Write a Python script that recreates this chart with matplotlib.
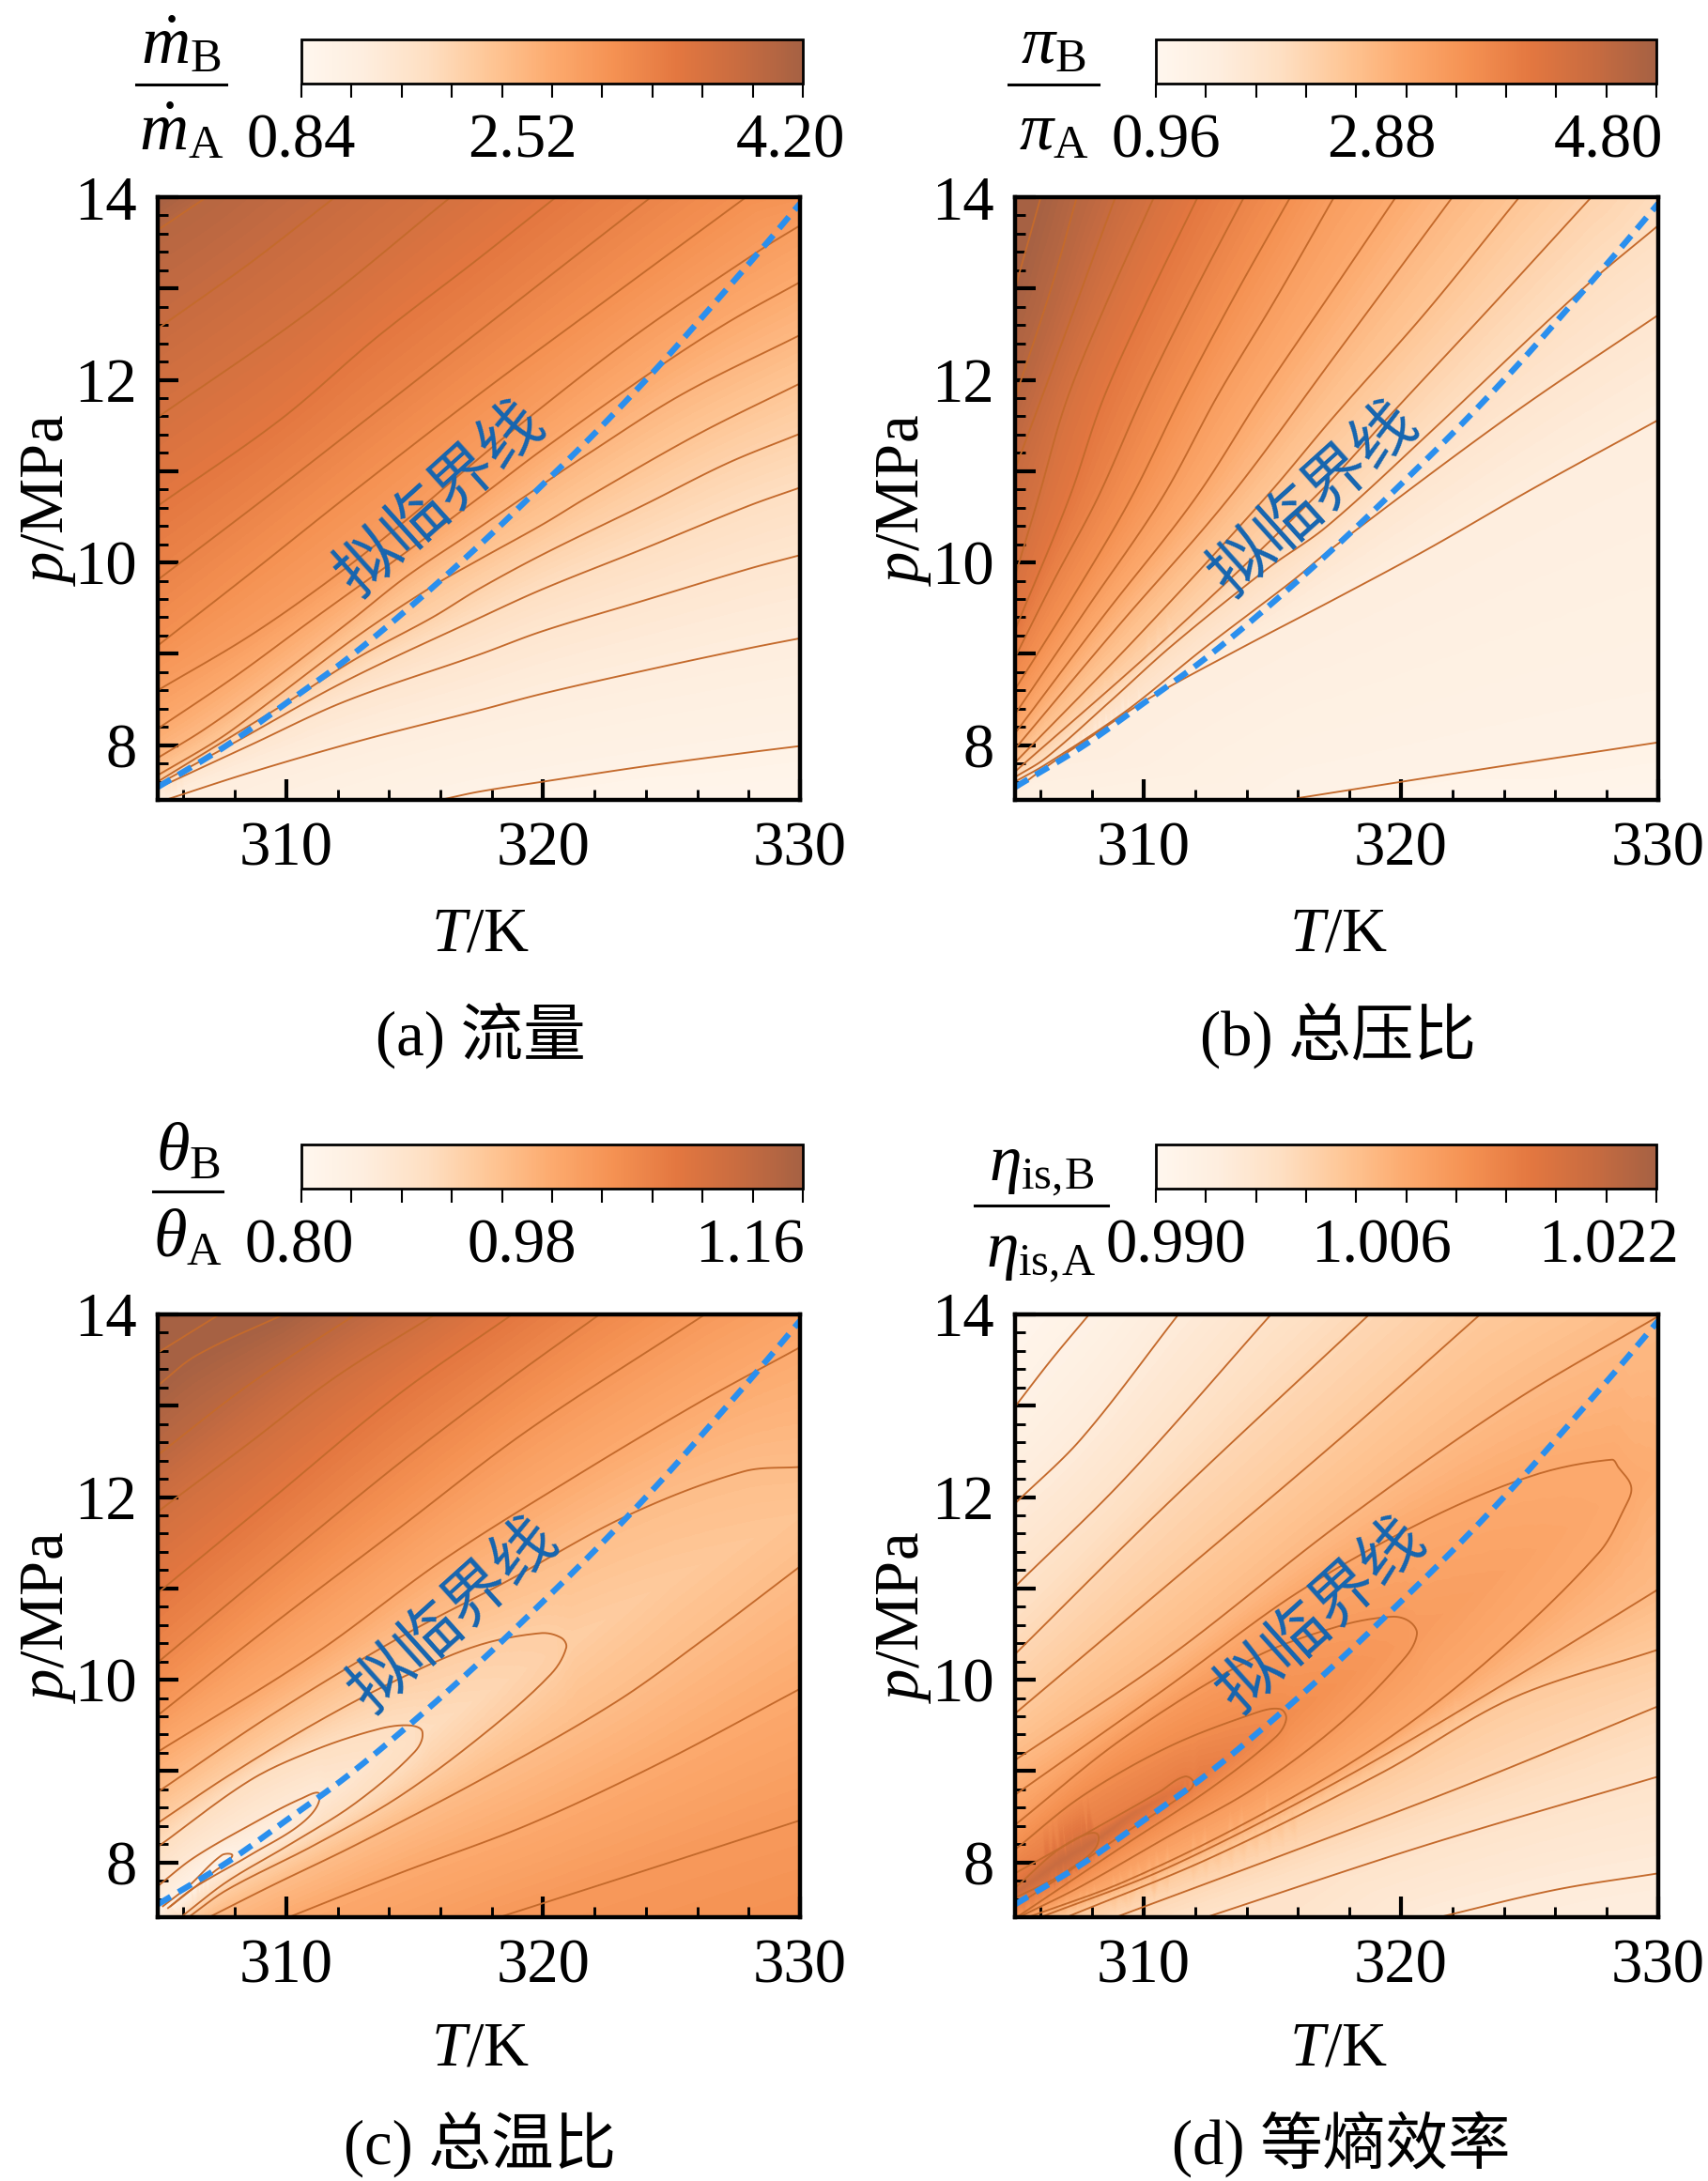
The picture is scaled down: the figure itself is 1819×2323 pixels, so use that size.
import matplotlib
matplotlib.use("Agg")
import matplotlib.pyplot as plt
import matplotlib.tri as mtri
from matplotlib.bezier import BezierSegment
from matplotlib.colors import LinearSegmentedColormap, Normalize
from matplotlib.cm import ScalarMappable
from matplotlib.lines import Line2D
from matplotlib.ticker import MultipleLocator, FixedLocator, NullFormatter, FuncFormatter
import numpy as np

plt.rcParams['font.family'] = ['Liberation Serif', 'Noto Sans CJK SC']
plt.rcParams['mathtext.fontset'] = 'custom'
plt.rcParams['mathtext.rm'] = 'Liberation Serif'
plt.rcParams['mathtext.it'] = 'Liberation Serif:italic'
plt.rcParams['axes.unicode_minus'] = False

W, H = 1819, 2323

# colour bar ranges and how many contour steps span them
range_a = (0.84, 4.20)
range_b = (0.96, 4.80)
range_c = (0.80, 1.16)
range_d = (0.990, 1.022)
steps_a = 16
steps_b = 16
steps_c = 12
steps_d = 14

# pseudo-critical line (T, p)
pc_line = [(305, 7.54), (307.7, 8.0), (310, 8.46), (312.4, 8.95), (315.1, 9.58), (317.6, 10.21), (319.5, 10.72),
           (322.1, 11.44), (324.5, 12.15), (326.3, 12.72), (328.5, 13.43), (330, 13.93)]

# contour lines: (step number, [(T, p), ...])
lines_a = [
    (1, [(316, 7.4), (317.5, 7.49), (320, 7.6), (324, 7.77), (328, 7.92), (330, 7.99)]),
    (2, [(305.3, 7.4), (308.6, 7.7), (312.9, 8.05), (317.5, 8.38), (320, 8.565), (324, 8.82), (328, 9.06), (330, 9.17)]),
    (3, [(305, 7.53), (308.6, 8.0), (312.3, 8.48), (317.5, 8.99), (320, 9.25), (324, 9.59), (328, 9.93), (330, 10.08)]),
    (4, [(305, 7.57), (308, 8.03), (312.3, 8.7), (317.5, 9.39), (320, 9.71), (324, 10.16), (328, 10.62), (330, 10.82)]),
    (5, [(305, 7.6), (307.9, 8.1), (310.1, 8.48), (312.8, 8.96), (315.7, 9.4), (317.5, 9.71), (320, 10.09), (324, 10.64), (327.2, 11.09), (330, 11.41)]),
    (6, [(305, 7.67), (307.4, 8.07), (309.2, 8.44), (312.8, 9.2), (315.7, 9.74), (317.5, 10.03), (320, 10.42), (321.7, 10.71), (326, 11.4), (330, 11.96)]),
    (7, [(305, 7.86), (306.8, 8.17), (309.2, 8.65), (312.5, 9.36), (314.7, 9.85), (317.5, 10.38), (319.9, 10.84), (321.7, 11.18), (325.4, 11.84), (330, 12.49)]),
    (8, [(305, 8.18), (308, 8.75), (311, 9.37), (314.7, 10.12), (317.7, 10.75), (319.9, 11.22), (324.4, 12.12), (327.2, 12.63), (330, 13.07)]),
    (9, [(305, 8.6), (308.6, 9.2), (311.9, 9.85), (314.7, 10.47), (316.7, 10.95), (319.06, 11.5), (323.6, 12.49), (328.5, 13.43), (330, 13.69)]),
    (10, [(305, 9.09), (308.6, 9.88), (312.4, 10.73), (317.5, 11.84), (322.35, 12.85), (327.9, 14)]),
    (11, [(305, 9.81), (309.3, 10.73), (313.5, 11.65), (317.5, 12.53), (321, 13.3), (324.2, 14)]),
    (12, [(305, 10.62), (309.8, 11.57), (313.5, 12.46), (317.5, 13.33), (320.5, 14)]),
    (13, [(305, 11.59), (311, 12.77), (316.4, 14)]),
    (14, [(305, 12.56), (308.6, 13.28), (311.9, 14)]),
    (15, [(305, 13.64), (306.9, 14)]),
]
# extra field samples for the fill: (T, p, step number)
fill_a = [(305, 7.4, 1.7), (322, 7.4, 0.6), (330, 7.4, 0.4), (305, 14, 16), (330, 14, 9.7)]

lines_b = [
    (1, [(316, 7.42), (323, 7.73), (330, 8.03)]),
    (2, [(305.1, 7.53), (306.2, 7.76), (308, 8.1), (310.2, 8.51), (313.5, 9.02), (317.5, 9.61), (321, 10.14), (325.2, 10.82), (330, 11.56)]),
    (3, [(305, 7.6), (306.2, 7.79), (309.3, 8.37), (312.3, 9.05), (315.7, 9.78), (317.3, 10.15), (324.3, 11.62), (330, 12.71)]),
    (4, [(305, 7.65), (306.2, 7.86), (308.7, 8.48), (311.1, 9.09), (314.8, 9.93), (317.1, 10.39), (321, 11.39), (327, 12.98), (330, 13.69)]),
    (5, [(305, 7.71), (310.8, 9.15), (316.7, 10.73), (319.8, 11.68), (323.5, 12.8), (327.4, 14)]),
    (6, [(305, 7.81), (309.8, 9.2), (314.7, 10.7), (317.4, 11.6), (321, 12.75), (324.6, 14)]),
    (7, [(305, 7.96), (309, 9.3), (313.3, 10.7), (317.4, 12.25), (322, 14)]),
    (8, [(305, 8.13), (308.4, 9.4), (312, 10.7), (314.6, 11.84), (317.4, 13.0), (319.8, 14)]),
    (9, [(305, 8.34), (307.8, 9.5), (310.7, 10.7), (312.9, 11.84), (315.1, 12.87), (317.4, 14)]),
    (10, [(305, 8.61), (307.2, 9.6), (309.5, 10.7), (311.5, 11.84), (313.5, 12.9), (315.7, 14)]),
    (11, [(305, 8.96), (306.5, 9.8), (308.2, 10.7), (310, 11.84), (311.8, 12.87), (313.9, 14)]),
    (12, [(305, 9.26), (307.1, 10.7), (308.4, 11.77), (310.1, 12.84), (312.1, 14)]),
    (13, [(305, 9.85), (305.9, 10.7), (307, 11.77), (308.55, 12.84), (310.4, 14)]),
    (14, [(305, 11.02), (305.9, 11.7), (307.3, 12.77), (308.9, 14)]),
    (15, [(305, 11.8), (306.4, 13.0), (307.4, 14)]),
    (16, [(305, 13.0), (306, 14)]),
]
fill_b = [(305, 7.4, 1.5), (330, 7.4, 0.5), (305, 14, 17), (330, 14, 4.2), (320, 7.4, 0.5)]

lines_c = [
    (1, [(305.2, 7.52), (306.2, 7.74), (307.5, 8.08), (307.9, 8.07), (307.2, 7.9), (306.4, 7.72), (305.5, 7.52)]),
    (2, [(305, 7.74), (306.4, 8.05), (308.6, 8.41), (310.6, 8.7), (311.3, 8.74), (310.7, 8.45), (308.6, 8.08), (306.4, 7.72), (305.4, 7.5)]),
    (3, [(305, 8.17), (308.6, 8.9), (311.1, 9.23), (313.6, 9.46), (314.8, 9.5), (315.3, 9.43), (315, 9.21), (312.7, 8.65), (310.1, 8.19), (307.7, 7.79), (305.9, 7.4)]),
    (4, [(305, 8.43), (307.7, 8.94), (311.1, 9.52), (314.4, 10.01), (317.4, 10.37), (319.9, 10.51), (320.7, 10.46), (320.9, 10.35), (320.3, 10.06), (317.8, 9.43), (314.4, 8.72), (311.1, 8.19), (307.7, 7.7), (306.2, 7.4)]),
    (5, [(305, 8.77), (309.4, 9.61), (314.4, 10.46), (318.6, 11.08), (323.3, 11.8), (327.8, 12.28), (330, 12.33)]),
    (5, [(330, 11.24), (326.1, 10.41), (322.8, 9.75), (317.8, 8.94), (312.7, 8.19), (309.4, 7.74), (307, 7.4)]),
    (6, [(305, 9.21), (311.1, 10.28), (316.1, 11.31), (321.1, 12.2), (326.1, 13.04), (330, 13.64)]),
    (6, [(330, 9.9), (324.5, 9.08), (319.4, 8.41), (314.4, 7.88), (310.1, 7.4)]),
    (7, [(305, 9.61), (309.4, 10.59), (314.4, 11.66), (319.4, 12.73), (326.3, 14)]),
    (7, [(330, 8.46), (324.5, 7.96), (318.3, 7.4)]),
    (8, [(305, 10.19), (309.4, 11.22), (314.4, 12.37), (318.6, 13.27), (322.2, 14)]),
    (9, [(305, 10.95), (309.4, 11.97), (314.4, 13.13), (318.8, 14)]),
    (10, [(305, 11.84), (308.6, 12.6), (311.9, 13.31), (315.8, 14)]),
    (11, [(305, 12.46), (308.6, 13.24), (312.7, 14)]),
    (12, [(305, 13.22), (306.5, 13.55), (309.9, 14)]),
    (13, [(305, 13.58), (307.4, 14)]),
]
fill_c = [(305, 7.4, 1.5), (330, 7.4, 7.5), (305, 14, 13.3), (330, 14, 6.4)]
# centre of the light ridge: (T, p, step number)
ridge_c = [(305.4, 7.54, 0.8), (306.5, 7.8, 0.6), (307.9, 8.05, 1), (311.25, 8.7, 2), (315.2, 9.4, 3),
           (320.85, 10.38, 4), (325, 11.1, 4.3), (330, 11.8, 4.6)]

lines_d = [
    (1, [(305, 12.99), (306.4, 13.5), (307.88, 14)]),
    (2, [(305, 11.93), (307.58, 12.64), (311.35, 14)]),
    (2, [(321.49, 7.4), (326.01, 7.7), (330, 7.88)]),
    (3, [(305, 11.02), (309.26, 12.2), (314.95, 14)]),
    (3, [(312.44, 7.4), (320.99, 8.19), (330, 8.94)]),
    (4, [(305, 10.28), (310.93, 11.93), (318.77, 14)]),
    (4, [(308.92, 7.4), (315.96, 8.14), (322.66, 8.86), (330, 9.71)]),
    (5, [(305, 9.63), (310.93, 11.04), (317.63, 12.64), (323.08, 14)]),
    (5, [(307, 7.4), (312.6, 8.05), (319.31, 8.99), (324.34, 9.8), (330, 10.33)]),
    (6, [(305, 9.12), (310.93, 10.24), (317.63, 11.71), (324.34, 13.04), (330, 13.98)]),
    (6, [(306, 7.4), (310.93, 7.94), (317.63, 8.9), (324.34, 10.01), (330, 10.99)]),
    (7, [(305, 8.74), (310.93, 9.92), (315.96, 10.95), (320.99, 11.75), (325.17, 12.24), (328.19, 12.41), (328.44, 12.33), (328.95, 12.11), (328.69, 11.88), (327.69, 11.39), (323.5, 10.24), (319.31, 9.32), (314.28, 8.48), (309.26, 7.79), (305.5, 7.4)]),
    (8, [(305, 8.41), (309.26, 9.37), (314.28, 10.24), (317.63, 10.59), (319.64, 10.69), (320.32, 10.64), (320.62, 10.5), (320.15, 10.24), (317.63, 9.52), (314.28, 8.81), (310.93, 8.28), (307.58, 7.74), (305.15, 7.4)]),
    (9, [(305, 8.14), (307.58, 8.72), (310.93, 9.26), (314.28, 9.63), (315.29, 9.68), (315.54, 9.57), (315.12, 9.37), (312.6, 8.81), (309.26, 8.19), (305.07, 7.4)]),
    (10, [(305, 7.88), (308.92, 8.5), (310.6, 8.77), (311.6, 8.94), (311.94, 8.86), (311.44, 8.72), (309.26, 8.32), (306.7, 7.83), (305, 7.52)]),
    (11, [(305, 7.72), (307, 8.2), (308.25, 8.28), (307.1, 7.92), (305, 7.61)]),
]
fill_d = [(305, 14, 0.2), (330, 14, 6), (330, 7.4, 1.7), (305, 7.4, 8), (315, 7.4, 3.0)]
# centre of the dark ridge: (T, p, step number)
ridge_d = [(305, 7.66, 12), (306.8, 8.02, 12.2), (308.25, 8.26, 12), (309.5, 8.52, 11.5), (311.9, 8.88, 10.3),
           (315.5, 9.58, 9), (320.6, 10.52, 8), (328.9, 12.13, 7), (330, 12.3, 6.8)]

# colour bar tick texts and where they stand along the bar (0..1)
cb_text_a = ['0.84', '2.52', '4.20']
cb_pos_a = [0.0, 0.44, 0.975]
cb_text_b = ['0.96', '2.88', '4.80']
cb_pos_b = [0.02, 0.45, 0.905]
cb_text_c = ['0.80', '0.98', '1.16']
cb_pos_c = [-0.005, 0.44, 0.895]
cb_text_d = ['0.990', '1.006', '1.022']
cb_pos_d = [0.04, 0.45, 0.905]

cmap = LinearSegmentedColormap.from_list('orange_brown', [
    (0.00, '#FFF7EE'), (0.12, '#FEEEDF'), (0.25, '#FEDFC2'), (0.38, '#FEC594'),
    (0.50, '#FCAA6E'), (0.62, '#F59253'), (0.75, '#E37740'), (0.87, '#C96C40'),
    (1.00, '#A66143')])

LINE_COLOR = '#C46A2C'
FS = 48


def px_axes(fig, x0, y0, x1, y1):
    return fig.add_axes([x0 / W, 1 - y1 / H, (x1 - x0) / W, (y1 - y0) / H])


def px_text(fig, x, y, s, **kw):
    kw.setdefault('ha', 'center')
    kw.setdefault('va', 'center')
    kw.setdefault('fontsize', FS)
    return fig.text(x / W, 1 - y / H, s, **kw)


def smooth(line, per_seg=14):
    # bezier curve through the read points, so the contours do not look angular
    P = np.array(line, dtype=float) / [25.0, 6.6]
    n = len(P)
    if n == 2:
        return np.array(line, dtype=float)
    tang = np.zeros_like(P)
    tang[1:-1] = P[2:] - P[:-2]
    tang[0] = P[1] - P[0]
    tang[-1] = P[-1] - P[-2]
    tang /= np.maximum(np.linalg.norm(tang, axis=1, keepdims=True), 1e-9)
    out = []
    ts = np.linspace(0, 1, per_seg, endpoint=False)
    for i in range(n - 1):
        d = np.linalg.norm(P[i + 1] - P[i]) / 3
        seg = BezierSegment(np.array([P[i], P[i] + tang[i] * d, P[i + 1] - tang[i + 1] * d, P[i + 1]]))
        out.append(seg.point_at_t(ts))
    out.append(P[-1:])
    return np.vstack(out) * [25.0, 6.6]


def ridge_mesh(ridge):
    # mesh nodes along the ridge so the fill has no fans around single samples
    out = []
    for a, b in zip(ridge[:-1], ridge[1:]):
        for f in np.linspace(0, 1, 12, endpoint=False):
            out.append(tuple(np.array(a) + f * (np.array(b) - np.array(a))))
    out.append(ridge[-1])
    return out


def draw_panel(fig, box, cb_box, lines, fill, val_range, steps, cb_text, cb_pos, ridge=None):
    vmin, vmax = val_range
    step = (vmax - vmin) / steps
    ax = px_axes(fig, *box)

    curves = [(k, smooth(line)) for k, line in lines]
    pts = [(c[0], c[1], k) for k, curve in curves for c in curve] + list(fill)
    if ridge:
        pts += ridge_mesh(ridge)
    arr = np.array(pts)
    arr = arr[np.unique(np.round(arr[:, :2], 3), axis=0, return_index=True)[1]]
    tr = mtri.Triangulation(arr[:, 0], arr[:, 1])
    vals = vmin + arr[:, 2] * step
    ax.tricontourf(tr, vals, levels=np.linspace(vmin, vmax, 97), cmap=cmap,
                   vmin=vmin, vmax=vmax, extend='both', antialiased=False)
    for k, curve in curves:
        ax.plot(curve[:, 0], curve[:, 1], color=LINE_COLOR, lw=1.35, solid_joinstyle='round')
    pc = smooth(pc_line)
    ax.plot(pc[:, 0], pc[:, 1], color='#2A8FEE', lw=4.6, dashes=(2.5, 1.5))

    ax.set_xlim(305, 330)
    ax.set_ylim(7.4, 14)
    ax.xaxis.set_major_locator(FixedLocator([310, 320, 330]))
    ax.xaxis.set_minor_locator(MultipleLocator(2))
    ax.yaxis.set_major_locator(MultipleLocator(1))
    ax.yaxis.set_minor_locator(MultipleLocator(0.2))
    ax.yaxis.set_major_formatter(FuncFormatter(lambda v, _: str(int(round(v))) if round(v) % 2 == 0 else ''))
    ax.tick_params(which='major', direction='in', length=16, width=3, labelsize=FS, pad=16,
                   top=False, right=False)
    ax.tick_params(which='minor', direction='in', length=8, width=2.1, top=False, right=False)
    ax.tick_params(axis='x', pad=16)
    for s in ax.spines.values():
        s.set_linewidth(3.2)

    cax = px_axes(fig, *cb_box)
    cb = fig.colorbar(ScalarMappable(Normalize(vmin, vmax), cmap), cax=cax, orientation='horizontal')
    cb.set_ticks(np.linspace(vmin, vmax, 11))
    cb.ax.xaxis.set_major_formatter(NullFormatter())
    cb.ax.tick_params(length=11, width=1.5, direction='out')
    cb.ax.minorticks_off()
    cb.outline.set_linewidth(2)

    x0, y0, x1, y1 = cb_box
    for s, f in zip(cb_text, cb_pos):
        px_text(fig, x0 + f * (x1 - x0), y1 + 62, s)
    return ax


def frac(fig, xc, half, y, num, den, fs=FS + 4):
    fig.add_artist(Line2D([(xc - half) / W, (xc + half) / W], [1 - y / H, 1 - y / H],
                          color='k', lw=2.2))
    px_text(fig, xc, y - 40, num, fontsize=fs)
    px_text(fig, xc, y + 52, den, fontsize=fs)


fig = plt.figure(figsize=(W / 100, H / 100), dpi=100)

draw_panel(fig, (168, 210, 852, 852), (321, 42, 855, 89), lines_a, fill_a, range_a, steps_a, cb_text_a, cb_pos_a)
draw_panel(fig, (1081, 210, 1766, 852), (1231, 42, 1764, 89), lines_b, fill_b, range_b, steps_b, cb_text_b, cb_pos_b)
draw_panel(fig, (168, 1400, 852, 2042), (321, 1219, 855, 1266), lines_c, fill_c, range_c, steps_c, cb_text_c, cb_pos_c, ridge_c)
draw_panel(fig, (1081, 1400, 1766, 2042), (1231, 1219, 1764, 1266), lines_d, fill_d, range_d, steps_d, cb_text_d, cb_pos_d, ridge_d)

frac(fig, 193, 48, 90, r'$\dot{m}_{\mathrm{B}}$', r'$\dot{m}_{\mathrm{A}}$')
frac(fig, 1122, 48, 90, r'$\pi_{\mathrm{B}}$', r'$\pi_{\mathrm{A}}$')
frac(fig, 200, 37, 1269, r'$\theta_{\mathrm{B}}$', r'$\theta_{\mathrm{A}}$')
frac(fig, 1109, 71, 1284, r'$\eta_{\mathrm{is,\!B}}$', r'$\eta_{\mathrm{is,\!A}}$', fs=FS + 2)

for x, y in [(52, 533), (963, 533), (52, 1723), (963, 1723)]:
    px_text(fig, x, y, r'$p$/MPa', rotation=90)
for x, y in [(511, 996), (1425, 996), (511, 2183), (1425, 2183)]:
    px_text(fig, x, y, r'$T$/K')

for x, y, s in [(512, 1103, '(a) 流量'), (1425, 1103, '(b) 总压比'),
                (511, 2284, '(c) 总温比'), (1428, 2284, '(d) 等熵效率')]:
    px_text(fig, x, y, s)

for x, y in [(470, 533), (1400, 533), (484, 1722), (1408, 1722)]:
    px_text(fig, x, y, '拟临界线', color='#1565B0', rotation=42, fontsize=49,
            family=['Noto Sans CJK SC'])

fig.savefig('out.png', dpi=100)
